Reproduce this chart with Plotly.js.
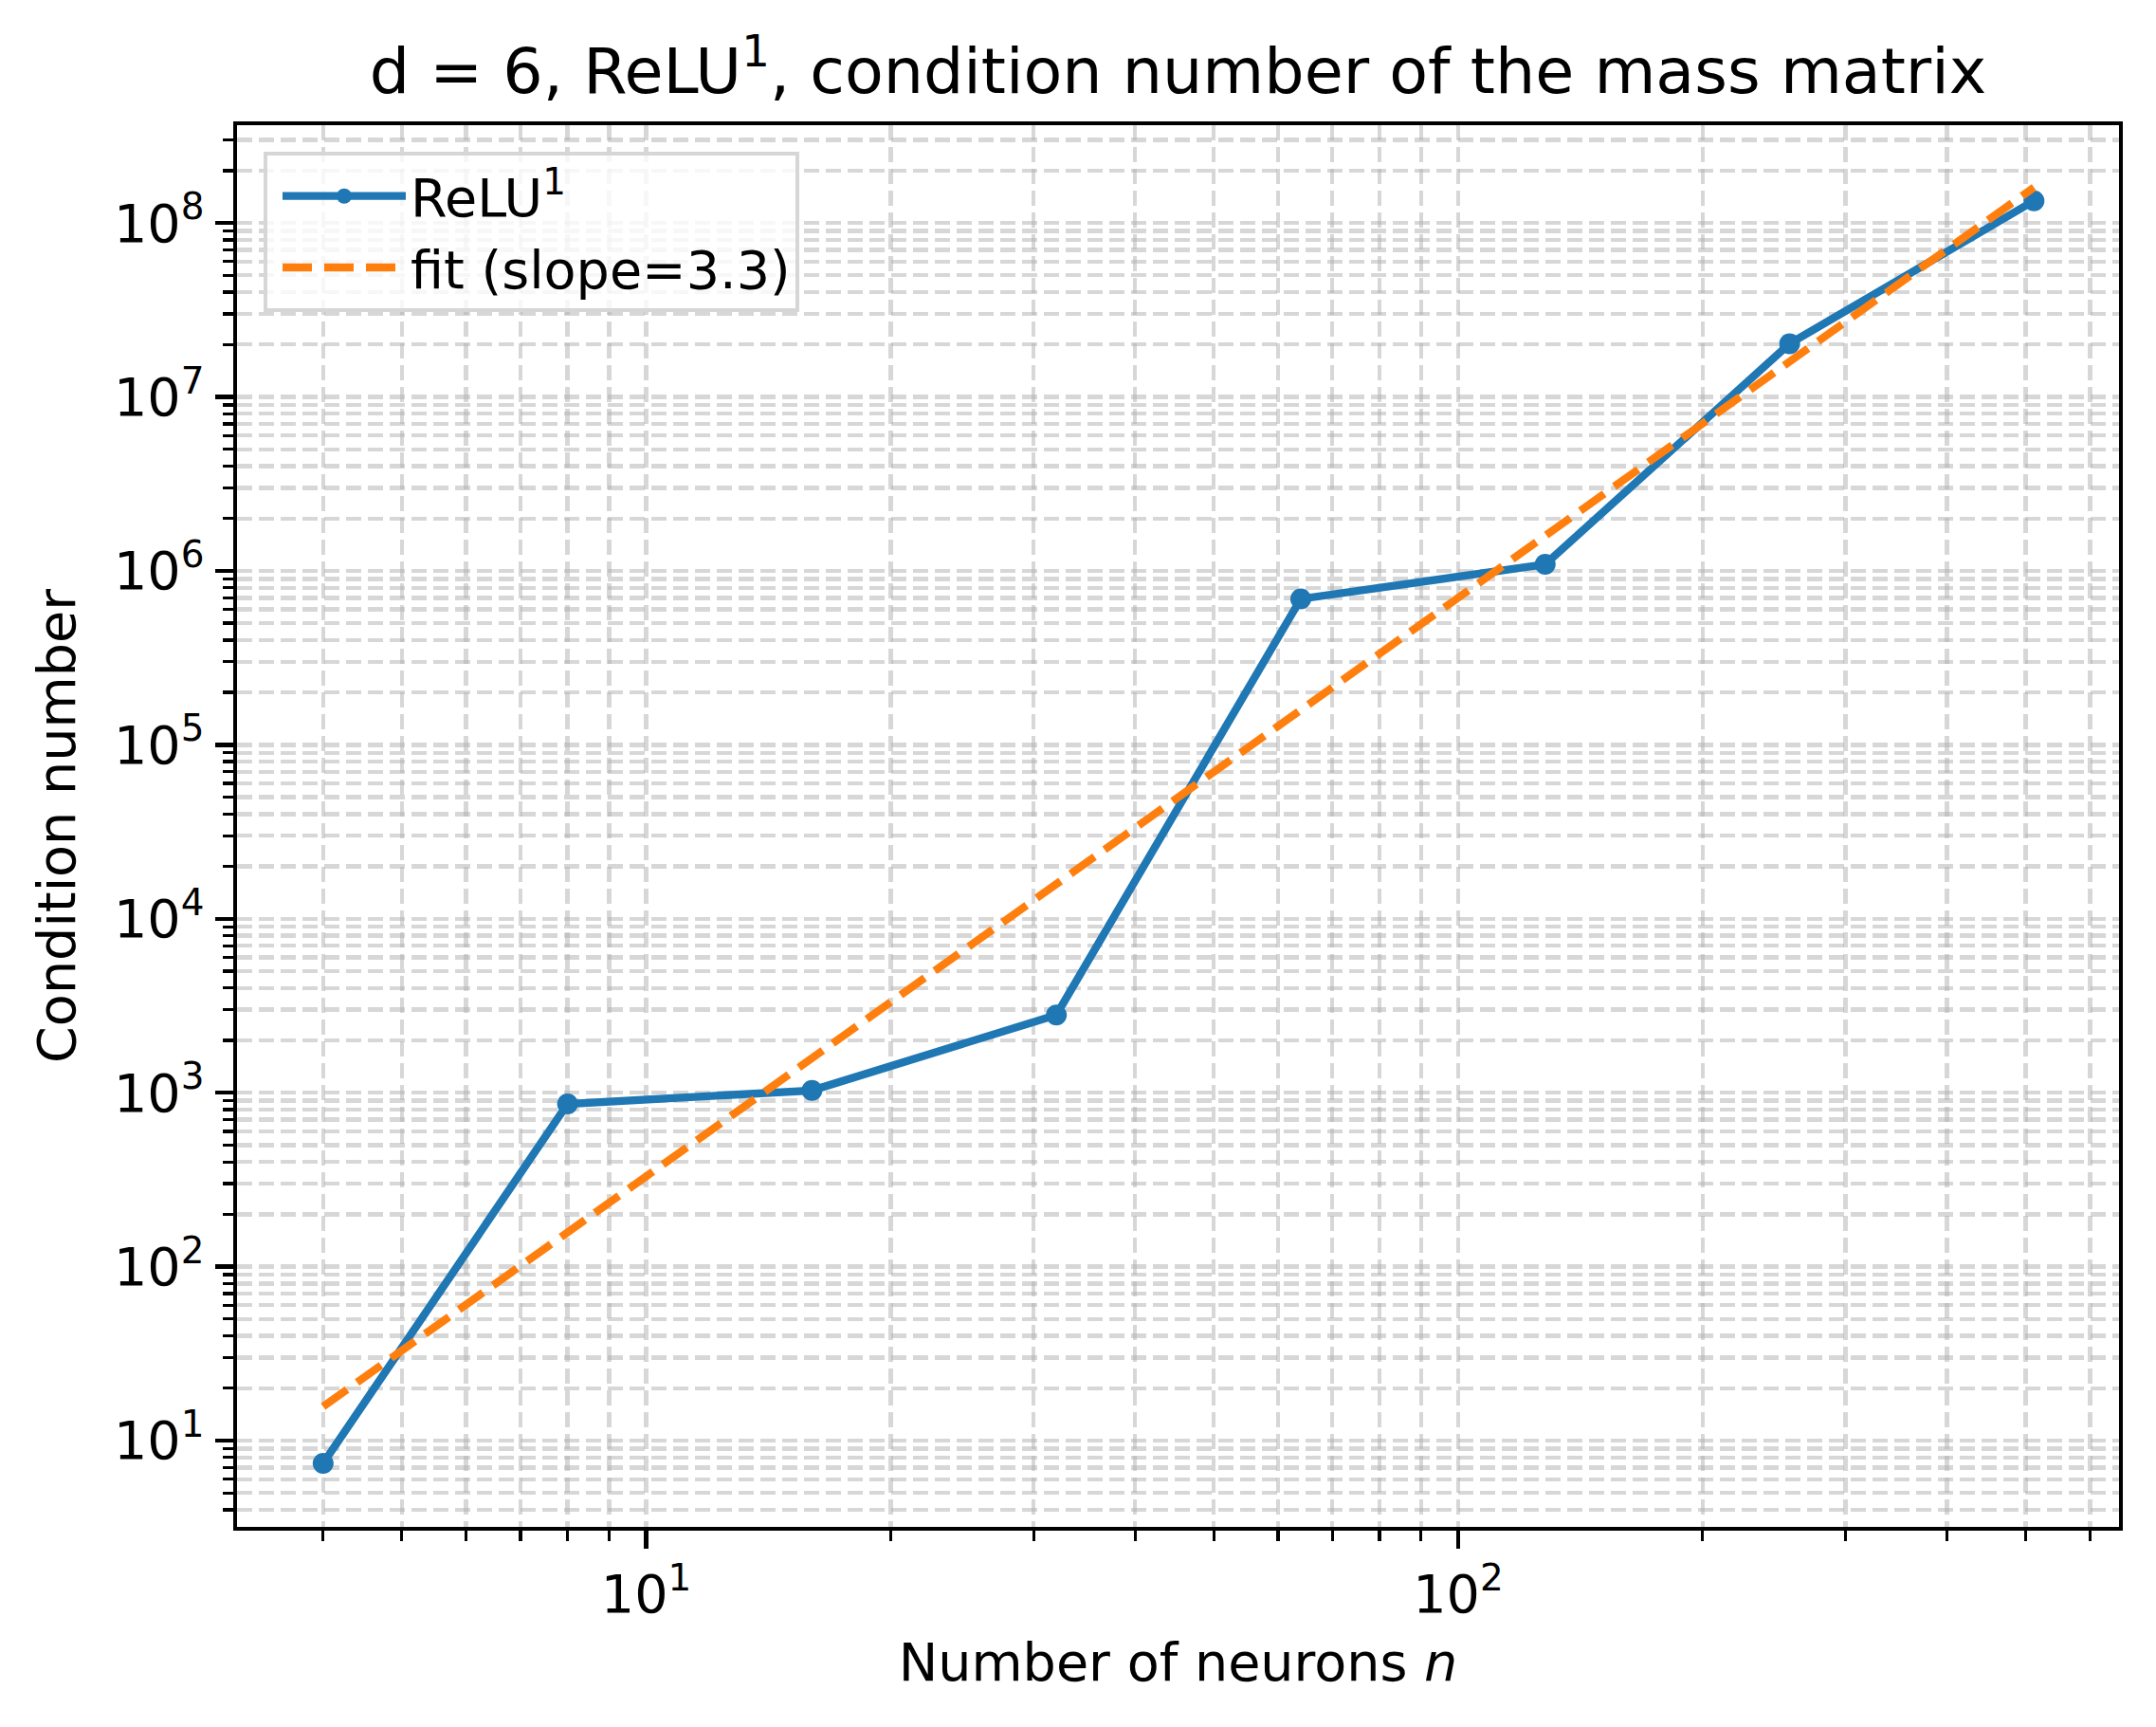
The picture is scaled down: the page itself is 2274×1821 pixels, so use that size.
<!DOCTYPE html>
<html><head><meta charset="utf-8">
<script src="https://cdn.plot.ly/plotly-3.0.1.min.js"></script>
<style>html,body{margin:0;padding:0;background:#fff}</style>
</head><body>
<div id="chart" style="width:2274px;height:1821px"></div>
<script>
// ---- data ----
const neurons = [4, 8, 16, 32, 64, 128, 256, 512];
const condNumber = [7.4, 862, 1030, 2800, 6.9e5, 1.09e6, 2.02e7, 1.34e8];
const fitValues = [15.7, 157, 1575, 1.58e4, 1.585e5, 1.59e6, 1.595e7, 1.6e8];
const seriesName = 'ReLU<sup>1</sup>';
const fitName = 'fit (slope=3.3)';
const xMajorTicks = [10, 100];
const xMajorLabels = ['10<sup>1</sup>', '10<sup>2</sup>'];
const yMajorTicks = [1e1, 1e2, 1e3, 1e4, 1e5, 1e6, 1e7, 1e8];
const yMajorLabels = ['10<sup>1</sup>', '10<sup>2</sup>', '10<sup>3</sup>', '10<sup>4</sup>',
                      '10<sup>5</sup>', '10<sup>6</sup>', '10<sup>7</sup>', '10<sup>8</sup>'];
const minorMultipliers = [2, 3, 4, 5, 6, 7, 8, 9];
const xDecades = [1, 10, 100];
const yDecades = [1, 10, 1e2, 1e3, 1e4, 1e5, 1e6, 1e7, 1e8];

function minorTicks(decades) {
  const out = [];
  decades.forEach(d => minorMultipliers.forEach(m => out.push(d * m)));
  return out;
}

const FONT = 'DejaVu Sans, Liberation Sans, sans-serif';
const gridColor = 'rgba(176,176,176,0.5)';
const gridDash = '16px,7px';

function axisBase(tickvals, ticktext, minorvals, range) {
  return {
    type: 'log', range: range, autorange: false,
    showline: true, linecolor: 'black', linewidth: 4.4, mirror: true,
    ticks: 'outside', ticklen: 19, tickwidth: 4.4, tickcolor: 'black',
    tickmode: 'array', tickvals: tickvals, ticktext: ticktext,
    showgrid: true, gridcolor: gridColor, gridwidth: 4.4, griddash: gridDash,
    zeroline: false,
    tickfont: {family: FONT, size: 55.6, color: 'black'},
    minor: {
      tickmode: 'array', tickvals: minorvals,
      ticks: 'outside', ticklen: 11, tickwidth: 3.3, tickcolor: 'black',
      showgrid: true, gridcolor: gridColor, gridwidth: 4.4, griddash: gridDash
    }
  };
}

const traces = [
  {
    x: neurons, y: condNumber, name: seriesName, type: 'scatter', mode: 'lines+markers',
    line: {color: '#1f77b4', width: 8.3},
    marker: {color: '#1f77b4', size: 22}
  },
  {
    x: neurons, y: fitValues, name: fitName, type: 'scatter', mode: 'lines',
    line: {color: '#ff7f0e', width: 8.3, dash: '31px,13px'}
  }
];

const xaxis = axisBase(xMajorTicks, xMajorLabels, minorTicks(xDecades), [0.496, 2.814]);
xaxis.title = {text: 'Number of neurons <i>n</i>', font: {family: FONT, size: 55.6, color: 'black'}, standoff: 22};
const yaxis = axisBase(yMajorTicks, yMajorLabels, minorTicks(yDecades), [0.504, 8.562]);
yaxis.title = {text: 'Condition number', font: {family: FONT, size: 55.6, color: 'black'}, standoff: 24};

const layout = {
  width: 2274, height: 1821,
  margin: {l: 250, r: 39, t: 132, b: 211, pad: 0},
  paper_bgcolor: 'white', plot_bgcolor: 'white',
  font: {family: FONT, size: 55.6, color: 'black'},
  title: {
    text: 'd = 6, ReLU<sup>1</sup>, condition number of the mass matrix',
    font: {family: FONT, size: 66.7, color: 'black'},
    x: 0.5, xref: 'paper', xanchor: 'center',
    y: 1 - 75 / 1821, yref: 'container', yanchor: 'middle'
  },
  xaxis: xaxis, yaxis: yaxis,
  showlegend: true,
  legend: {
    x: 0.0141, y: 0.981, xanchor: 'left', yanchor: 'top',
    bgcolor: 'rgba(255,255,255,0.8)', bordercolor: '#d6d6d6', borderwidth: 4,
    font: {family: FONT, size: 55.6, color: 'black'},
    itemwidth: 130, indentation: 11
  }
};

Plotly.newPlot('chart', traces, layout, {staticPlot: true, displayModeBar: false});
</script>
</body></html>
